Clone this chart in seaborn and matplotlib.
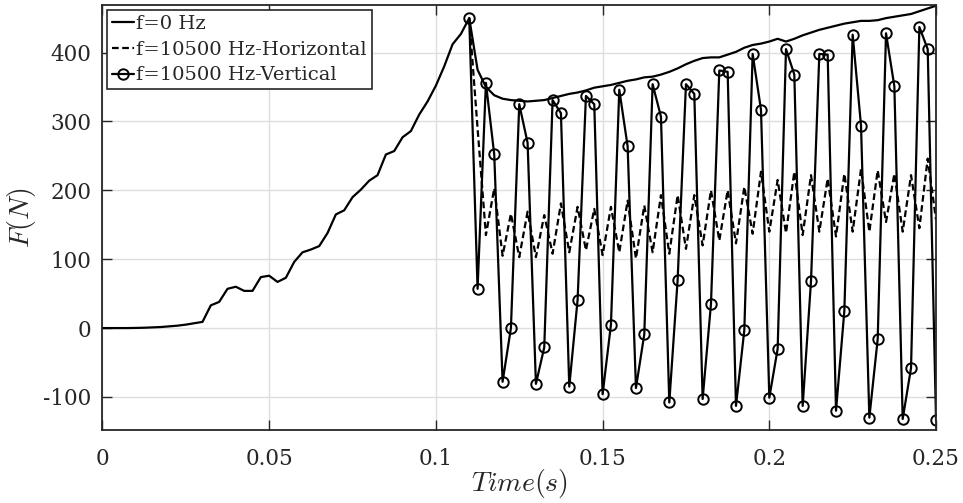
import numpy as np
import pandas as pd
import matplotlib
matplotlib.use("Agg")
import matplotlib.pyplot as plt
import seaborn as sns

# ---- data -------------------------------------------------------------
t_f0 = [0, 0.0025, 0.005, 0.0075, 0.01, 0.0125, 0.015, 0.0175, 0.02, 0.0225,
        0.025, 0.0275, 0.03, 0.0325, 0.035, 0.0375, 0.04, 0.0425, 0.045, 0.0475,
        0.05, 0.0525, 0.055, 0.0575, 0.06, 0.0625, 0.065, 0.0675, 0.07, 0.0725,
        0.075, 0.0775, 0.08, 0.0825, 0.085, 0.0875, 0.09, 0.0925, 0.095, 0.0975,
        0.1, 0.1025, 0.105, 0.1075, 0.11, 0.1125, 0.115, 0.1175, 0.12, 0.1225,
        0.125, 0.1275, 0.13, 0.1325, 0.135, 0.1375, 0.14, 0.1425, 0.145, 0.1475,
        0.15, 0.1525, 0.155, 0.1575, 0.16, 0.1625, 0.165, 0.1675, 0.17, 0.1725,
        0.175, 0.1775, 0.18, 0.1825, 0.185, 0.1875, 0.19, 0.1925, 0.195, 0.1975,
        0.2, 0.2025, 0.205, 0.2075, 0.21, 0.2125, 0.215, 0.2175, 0.22, 0.2225,
        0.225, 0.2275, 0.23, 0.2325, 0.235, 0.2375, 0.24, 0.2425, 0.245, 0.2475,
        0.25]
F_f0 = [0, 0, 0, 0, 0.2, 0.5, 1, 1.5, 2.5, 3.5,
        5, 7, 9, 33, 38, 57, 60, 54, 54, 74,
        76, 67, 73, 96, 110, 114, 119, 138, 165, 171,
        190, 201, 214, 222, 252, 257, 277, 286, 310, 329,
        352, 380, 412, 427, 450, 375, 350, 338, 333, 331,
        330, 329, 330, 331, 334, 337, 340, 342, 345, 349,
        351, 353, 356, 359, 361, 364, 365, 368, 372, 377,
        383, 388, 392, 393, 393, 397, 401, 407, 411, 413,
        416, 420, 416, 420, 425, 429, 433, 436, 439, 442,
        444, 446, 446, 447, 450, 452, 454, 456, 460, 464,
        468]

t_vib = [0.11, 0.1125, 0.115, 0.1175, 0.12, 0.1225, 0.125, 0.1275, 0.13, 0.1325,
         0.135, 0.1375, 0.14, 0.1425, 0.145, 0.1475, 0.15, 0.1525, 0.155, 0.1575,
         0.16, 0.1625, 0.165, 0.1675, 0.17, 0.1725, 0.175, 0.1775, 0.18, 0.1825,
         0.185, 0.1875, 0.19, 0.1925, 0.195, 0.1975, 0.2, 0.2025, 0.205, 0.2075,
         0.21, 0.2125, 0.215, 0.2175, 0.22, 0.2225, 0.225, 0.2275, 0.23, 0.2325,
         0.235, 0.2375, 0.24, 0.2425, 0.245, 0.2475, 0.25]
F_horizontal = [450, 290, 135, 203, 105, 166, 103, 169, 103, 164,
                108, 181, 110, 176, 113, 173, 106, 176, 110, 185,
                101, 178, 110, 193, 108, 193, 115, 193, 120, 200,
                127, 200, 123, 205, 137, 227, 140, 215, 138, 227,
                135, 222, 140, 217, 133, 224, 140, 231, 140, 229,
                154, 224, 140, 222, 145, 246, 157]
F_vertical = [450, 57, 356, 252, -78, 0, 325, 269, -81, -28,
              331, 312, -85, 41, 337, 325, -96, 5, 346, 264,
              -87, -9, 354, 307, -108, 70, 354, 340, -103, 35,
              374, 372, -113, -3, 398, 317, -101, -30, 405, 368,
              -113, 68, 398, 397, -120, 25, 426, 294, -130, -16,
              428, 351, -132, -58, 437, 405, -134]

series_labels = ["f=0 Hz", "f=10500 Hz-Horizontal", "f=10500 Hz-Vertical"]
x_ticks = [0, 0.05, 0.1, 0.15, 0.2, 0.25]
x_ticklabels = ["0", "0.05", "0.1", "0.15", "0.2", "0.25"]
y_ticks = [-100, 0, 100, 200, 300, 400]
y_ticklabels = ["-100", "0", "100", "200", "300", "400"]

df_f0 = pd.DataFrame({"t": t_f0, "F": F_f0})
df_h = pd.DataFrame({"t": t_vib, "F": F_horizontal})
df_v = pd.DataFrame({"t": t_vib, "F": F_vertical})

# ---- style ------------------------------------------------------------
sns.set_theme(style="white")
plt.rcParams["font.family"] = ["DejaVu Serif"]
plt.rcParams["mathtext.fontset"] = "cm"

fig = plt.figure(figsize=(9.63, 5.03), dpi=100)
ax = fig.add_axes([0.1064, 0.1451, 0.972 - 0.1064, 0.990 - 0.1451])

sns.lineplot(data=df_f0, x="t", y="F", ax=ax, color="black", lw=1.6,
             label=series_labels[0])
sns.lineplot(data=df_h, x="t", y="F", ax=ax, color="black", lw=1.6,
             linestyle=(0, (3, 1.6)), label=series_labels[1])
sns.lineplot(data=df_v, x="t", y="F", ax=ax, color="black", lw=1.6,
             marker="o", markersize=7.5, markerfacecolor="none",
             markeredgecolor="black", markeredgewidth=1.4,
             label=series_labels[2])

ax.set_xlim(0, 0.25)
ax.set_ylim(-148, 469)
ax.set_xticks(x_ticks)
ax.set_xticklabels(x_ticklabels)
ax.set_yticks(y_ticks)
ax.set_yticklabels(y_ticklabels)

ax.grid(True, color="#dedede", lw=1.0)
ax.set_axisbelow(True)
for s in ax.spines.values():
    s.set_color("#262626")
    s.set_linewidth(1.3)
    s.set_visible(True)
ax.tick_params(axis="both", direction="in", length=7, width=1.0,
               color="#262626", labelsize=15.5, labelcolor="#262626",
               top=True, right=True, bottom=True, left=True)
ax.tick_params(axis="x", pad=13)
ax.tick_params(axis="y", pad=8)

ax.set_xlabel(r"$Time(s)$", fontsize=20, labelpad=-2)
ax.set_ylabel(r"$F(N)$", fontsize=20, labelpad=4)

leg = ax.legend(loc="upper left", fontsize=14, frameon=True, fancybox=False,
                edgecolor="#262626", framealpha=1, handlelength=1.1,
                handletextpad=0.15, labelspacing=0.4, borderpad=0.25,
                borderaxespad=0.25)
leg.get_frame().set_linewidth(1.2)

fig.savefig("out.png", dpi=100)
